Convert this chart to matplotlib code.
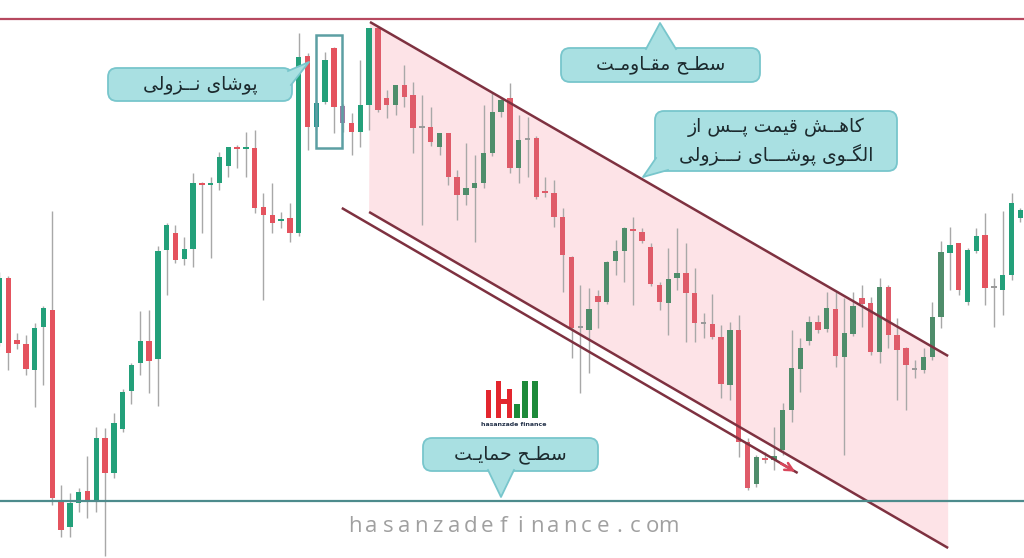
import numpy as np
import matplotlib
matplotlib.use('Agg')
from matplotlib import pyplot as plt
from matplotlib.patches import FancyBboxPatch, Polygon, Rectangle

# candle data (price units, one candle per bar)
opens = [215, 280, 218, 214, 188, 231, 248, 58, 31, 55, 67, 56, 120, 85, 129, 167, 195, 217, 199, 308,
         325, 299, 309, 375, 373, 375, 392, 411, 409, 410, 351, 343, 337, 340, 325, 502, 431, 456, 510, 452,
         435, 426, 453, 530, 460, 453, 473, 463, 430, 431, 411, 425, 381, 363, 370, 375, 405, 446, 460, 390,
         418, 420, 367, 365, 341, 301, 230, 228, 262, 256, 297, 307, 329, 326, 311, 273, 255, 280, 285, 265,
         234, 234, 221, 173, 228, 116, 74, 100, 98, 108, 148, 189, 217, 236, 229, 249, 201, 224, 260, 255,
         206, 271, 223, 210, 188, 188, 201, 241, 305, 315, 256, 307, 323, 270, 268, 283, 340]
highs = [286, 282, 225, 223, 235, 252, 347, 73, 65, 70, 102, 131, 130, 145, 169, 195, 247, 248, 312, 335,
         333, 321, 385, 376, 381, 406, 411, 413, 426, 428, 365, 375, 346, 355, 525, 505, 458, 506, 511, 454,
         445, 498, 530, 532, 468, 473, 493, 476, 463, 451, 425, 425, 388, 415, 403, 453, 466, 460, 475, 443,
         441, 422, 381, 378, 350, 302, 273, 270, 268, 297, 318, 331, 341, 330, 315, 276, 310, 330, 315, 290,
         245, 264, 233, 236, 243, 120, 103, 106, 131, 155, 228, 220, 242, 243, 266, 266, 260, 266, 273, 261,
         280, 273, 240, 211, 198, 210, 256, 317, 331, 315, 310, 330, 345, 280, 347, 365, 350]
lows = [212, 188, 209, 183, 151, 173, 53, 21, 21, 46, 40, 46, 2, 80, 126, 154, 183, 165, 152, 263,
        295, 293, 291, 325, 300, 368, 381, 390, 381, 345, 258, 325, 330, 316, 322, 408, 428, 454, 425, 426,
        403, 411, 428, 446, 440, 443, 451, 405, 333, 412, 403, 373, 338, 353, 316, 370, 402, 441, 385, 375,
        381, 359, 361, 331, 266, 200, 165, 185, 230, 254, 283, 276, 253, 315, 272, 248, 223, 268, 216, 216,
        220, 219, 160, 158, 101, 68, 71, 95, 88, 103, 136, 166, 213, 225, 226, 191, 103, 222, 231, 203,
        195, 210, 158, 148, 180, 185, 198, 230, 268, 263, 253, 305, 253, 231, 243, 278, 336]
closes = [280, 205, 214, 189, 230, 250, 60, 28, 55, 66, 56, 120, 85, 135, 166, 193, 217, 197, 307, 333,
          298, 309, 375, 373, 375, 401, 411, 409, 409.5, 350, 343, 335, 339, 325, 501, 431, 455, 498, 451, 435,
          426, 453, 530, 448, 453, 473, 461, 430, 430, 416, 425, 381, 363, 370, 375, 405, 446, 458, 390, 418,
          418, 361, 365, 341, 303, 230, 230, 249, 256, 296, 307, 330, 327, 317, 274, 256, 279, 285, 265, 235,
          234, 221, 174, 228, 116, 70, 101, 98, 102, 148, 190, 210, 236, 228, 250, 202, 225, 252, 254, 206,
          271, 223, 208, 193, 188, 201, 241, 306, 313, 268, 308, 322, 270, 270, 283, 355, 348]

resistance = 539
support = 57
# channel: (candle index, price) endpoints
upper_line = [(42.1, 536), (107.8, 202)]
lower_line = [(42.0, 346), (107.8, 10)]
arrow_line = [(38.9, 350), (90.7, 85)]
special_colors = {36: '#2b9690', 39: '#a07aa3'}

label_engulf = "پوشای نــزولی"
label_resist = "سطـح مقـاومـت"
label_drop = ["کاهــش قیمت پــس از", "الگـوی پوشـــای نـــزولی"]
label_support = "سطـح حمایـت"
site = "hasanzadefinance.com"

# --- minimal arabic shaping (matplotlib does not shape) ---
FORMS = {
    'پ': (0xFB56, 0xFB57, 0xFB58, 0xFB59), 'ش': (0xFEB5, 0xFEB6, 0xFEB7, 0xFEB8),
    'ی': (0xFBFC, 0xFBFD, 0xFBFE, 0xFBFF), 'ن': (0xFEE5, 0xFEE6, 0xFEE7, 0xFEE8),
    'ل': (0xFEDD, 0xFEDE, 0xFEDF, 0xFEE0), 'س': (0xFEB1, 0xFEB2, 0xFEB3, 0xFEB4),
    'ط': (0xFEC1, 0xFEC2, 0xFEC3, 0xFEC4), 'ح': (0xFEA1, 0xFEA2, 0xFEA3, 0xFEA4),
    'م': (0xFEE1, 0xFEE2, 0xFEE3, 0xFEE4), 'ق': (0xFED5, 0xFED6, 0xFED7, 0xFED8),
    'ت': (0xFE95, 0xFE96, 0xFE97, 0xFE98), 'ک': (0xFB8E, 0xFB8F, 0xFB90, 0xFB91),
    'ه': (0xFEE9, 0xFEEA, 0xFEEB, 0xFEEC), 'گ': (0xFB92, 0xFB93, 0xFB94, 0xFB95),
    'و': (0xFEED, 0xFEEE), 'ا': (0xFE8D, 0xFE8E), 'ز': (0xFEAF, 0xFEB0),
}
TATWEEL = 'ـ'


def joins_next(ch):
    return ch == TATWEEL or (ch in FORMS and len(FORMS[ch]) == 4)


def joins_prev(ch):
    return ch == TATWEEL or ch in FORMS


def shape(line):
    out = []
    for i, ch in enumerate(line):
        if ch not in FORMS:
            out.append(ch)
            continue
        prev = line[i - 1] if i > 0 else ' '
        nxt = line[i + 1] if i + 1 < len(line) else ' '
        f = FORMS[ch]
        p = joins_next(prev)
        n = len(f) == 4 and joins_prev(nxt)
        out.append(chr(f[3] if p and n else f[1] if p else f[2] if n else f[0]))
    return ''.join(reversed(out))


fig = plt.figure(figsize=(10.24, 5.58), dpi=100)
fig.patch.set_facecolor('white')
ax = fig.add_axes([0, 0, 1, 1])
ax.set_xlim(0.057, 116.42)
ax.set_ylim(0, 558)
ax.axis('off')

idx = np.arange(len(opens))
o = np.array(opens, float)
c = np.array(closes, float)
h = np.array(highs, float)
l = np.array(lows, float)

ch_left, ch_right = upper_line[0][0], upper_line[1][0]
inside = (idx > ch_left + 0.5) & (idx < ch_right)

colors = []
for i in idx:
    if i in special_colors:
        colors.append(special_colors[i])
    elif c[i] > o[i]:
        colors.append('#4f8d6b' if inside[i] else '#23a07a')
    elif c[i] < o[i]:
        colors.append('#df5b69' if inside[i] else '#e4535e')
    else:
        colors.append('#9a9a9a')

# channel fill
poly = Polygon([upper_line[0], upper_line[1], lower_line[1], lower_line[0]],
               closed=True, facecolor='#fde3e7', edgecolor='none', zorder=1)
ax.add_patch(poly)

ax.vlines(idx, l, h, color='#a8a8a8', lw=1.0, zorder=2)
bottoms = np.minimum(o, c)
heights = np.maximum(np.abs(c - o), 1.6)
ax.bar(idx, heights, bottom=bottoms, width=0.62, color=colors, zorder=3)

ax.axhline(resistance, color='#b6485f', lw=1.6, zorder=5)
ax.axhline(support, color='#4d8b8c', lw=1.6, zorder=5)

for seg in (upper_line, lower_line, arrow_line):
    xs, ys = zip(*seg)
    ax.plot(xs, ys, color='#7e3140', lw=1.8, zorder=4, solid_capstyle='butt')
ax.annotate('', xy=arrow_line[1], xytext=(arrow_line[1][0] - 2.2, arrow_line[1][1] + 11),
            arrowprops=dict(arrowstyle='->', color='#d9475b', lw=1.8, mutation_scale=14), zorder=6)

# annotation layer in pixel coordinates
ov = fig.add_axes([0, 0, 1, 1])
ov.set_xlim(0, 1024)
ov.set_ylim(558, 0)
ov.axis('off')
ov.patch.set_alpha(0)

box_face = '#a9e0e2'
box_edge = '#78c6cc'


def bubble(x0, y0, x1, y1, tail, text_lines, size, ys):
    ov.add_patch(FancyBboxPatch((x0, y0), x1 - x0, y1 - y0,
                                boxstyle='round,pad=0,rounding_size=9',
                                facecolor=box_face, edgecolor=box_edge, lw=1.3, zorder=7))
    ov.add_patch(Polygon(tail, closed=True, facecolor=box_face, edgecolor='none', zorder=8))
    ov.plot([tail[0][0], tail[1][0], tail[2][0]], [tail[0][1], tail[1][1], tail[2][1]],
            color=box_edge, lw=1.3, zorder=9)
    for t, yy in zip(text_lines, ys):
        ov.text((x0 + x1) / 2, yy, shape(t), ha='center', va='center', fontsize=size,
                family=['DejaVu Sans'], color='#1c2a2e', zorder=10)


bubble(108, 68, 292, 101, [(288, 71), (309, 62), (291, 85)], [label_engulf], 13.5, [84])
bubble(561, 48, 760, 82, [(646, 49), (660, 23), (676, 49)], [label_resist], 13.5, [65])
bubble(655, 111, 897, 171, [(668, 170), (643, 177), (656, 158)], label_drop, 13.5, [127, 155])
bubble(423, 438, 598, 471, [(488, 470), (501, 497), (514, 470)], [label_support], 13.5, [454])

ov.add_patch(Rectangle((316, 35), 26, 113, fill=False, edgecolor='#5c9fa3', lw=1.8, zorder=7))

# logo
for rx, ry, rw, rh, col in [(486, 390, 5, 28, '#e3262e'), (496, 381, 5, 37, '#e3262e'),
                            (507, 389, 5, 29, '#e3262e'), (496, 399, 16, 5, '#e3262e'),
                            (514, 404, 6, 14, '#1d8a3a'), (522, 381, 6, 37, '#1d8a3a'),
                            (532, 381, 6, 37, '#1d8a3a')]:
    ov.add_patch(Rectangle((rx, ry), rw, rh, facecolor=col, edgecolor='none', zorder=7))
ov.text(514, 424, 'hasanzade finance', ha='center', va='center', fontsize=4.5,
        color='#24324a', fontweight='bold', zorder=7)

# spaced site watermark
for k, ch in enumerate(site):
    ov.text(355 + k * 16.5, 527, ch, ha='center', va='center', fontsize=16,
            family=['Open Sans', 'DejaVu Sans'], color='#a0a0a0', zorder=7)

fig.savefig('out.png', dpi=100)
